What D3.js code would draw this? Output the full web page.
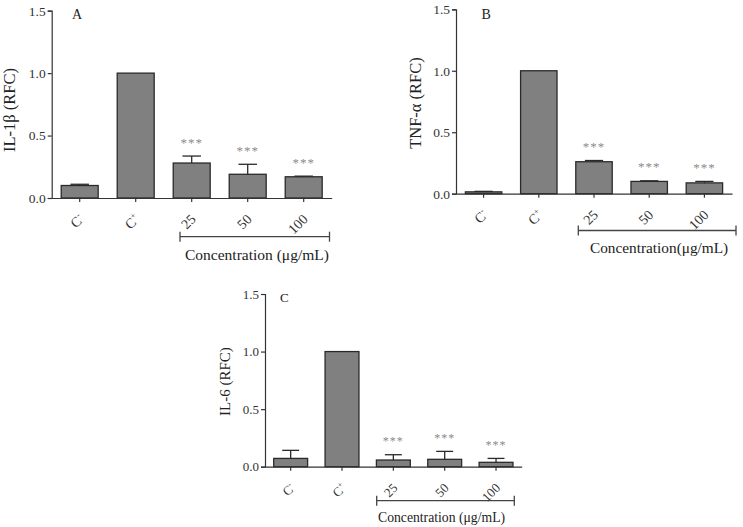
<!DOCTYPE html>
<html>
<head>
<meta charset="utf-8">
<script src="https://cdn.jsdelivr.net/npm/d3@7"></script>
<style>
  html, body { margin: 0; padding: 0; background: #fff; }
  svg { display: block; font-family: "Liberation Serif", "Times New Roman", serif; }
</style>
</head>
<body>
<svg id="chart" width="743" height="527"></svg>
<script>
// ---- data ----
const categories = ["C-", "C+", "25", "50", "100"];
const yTicks = [0, 0.5, 1.0, 1.5];
const il1bMean = [0.10, 1.00, 0.28, 0.19, 0.17];
const il1bErr  = [0.01, 0.00, 0.056, 0.08, 0.005];
const tnfMean  = [0.015, 1.00, 0.26, 0.10, 0.088];
const tnfErr   = [0.004, 0.00, 0.01, 0.005, 0.012];
const il6Mean  = [0.072, 1.00, 0.058, 0.064, 0.038];
const il6Err   = [0.07, 0.00, 0.046, 0.069, 0.034];
const signif   = ["", "", "***", "***", "***"];
const panelLetters = ["A", "B", "C"];
const yLabels = ["IL-1β (RFC)", "TNF-α (RFC)", "IL-6 (RFC)"];
const xTitles = ["Concentration (μg/mL)", "Concentration(μg/mL)", "Concentration (μg/mL)"];

const svg = d3.select("#chart");

const panels = [
  { mean: il1bMean, err: il1bErr, x0: 51.7, x1: 331.7, yTop: 10.7, yBot: 198,
    letterPos: [72, 19], ylabPos: [15, 110], ylabSize: 16.5, tickSize: 13.5, xtSize: 14,
    brX: [180, 329.5], brY: 236.7, titlePos: [185, 260], titleSize: 15.5, letterSize: 14, starSize: 13 },
  { mean: tnfMean, err: tnfErr, x0: 456, x1: 732, yTop: 9.3, yBot: 193.7,
    letterPos: [481.5, 19], ylabPos: [421, 103], ylabSize: 16.5, tickSize: 13.5, xtSize: 14,
    brX: [578.3, 736], brY: 230.5, titlePos: [590, 253], titleSize: 15.3, letterSize: 14, starSize: 13 },
  { mean: il6Mean, err: il6Err, x0: 265, x1: 521.7, yTop: 294, yBot: 466.7,
    letterPos: [280, 302], ylabPos: [229.5, 381.5], ylabSize: 15, tickSize: 13, xtSize: 13,
    brX: [376.7, 514.3], brY: 500.7, titlePos: [378, 521.5], titleSize: 13.7, letterSize: 13, starSize: 12 }
];

panels.forEach((p, pi) => {
  const g = svg.append("g");
  const x = d3.scaleBand().domain(categories).range([p.x0, p.x1]).paddingInner(0.34).paddingOuter(0.17);
  const y = d3.scaleLinear().domain([0, 1.5]).range([p.yBot, p.yTop]);
  const rows = categories.map((c, i) => ({ c, m: p.mean[i], e: p.err[i], s: signif[i] }));

  // bars
  g.selectAll("rect.bar").data(rows).join("rect")
    .attr("class", "bar")
    .attr("x", d => x(d.c))
    .attr("width", x.bandwidth())
    .attr("y", d => y(d.m))
    .attr("height", d => y(0) - y(d.m))
    .attr("fill", "#808080")
    .attr("stroke", "#2a2a2a")
    .attr("stroke-width", 1.3);

  // error bars (upper only)
  const eb = g.selectAll("g.err").data(rows.filter(d => d.e > 0)).join("g").attr("class", "err");
  eb.append("line")
    .attr("x1", d => x(d.c) + x.bandwidth() / 2).attr("x2", d => x(d.c) + x.bandwidth() / 2)
    .attr("y1", d => y(d.m)).attr("y2", d => y(d.m + d.e))
    .attr("stroke", "#2a2a2a").attr("stroke-width", 1.3);
  eb.append("line")
    .attr("x1", d => x(d.c) + x.bandwidth() * 0.25).attr("x2", d => x(d.c) + x.bandwidth() * 0.75)
    .attr("y1", d => y(d.m + d.e)).attr("y2", d => y(d.m + d.e))
    .attr("stroke", "#2a2a2a").attr("stroke-width", 1.3);

  // significance stars
  g.selectAll("text.star").data(rows.filter(d => d.s)).join("text")
    .attr("class", "star")
    .attr("x", d => x(d.c) + x.bandwidth() / 2)
    .attr("y", d => y(d.m + d.e) - 9.5)
    .attr("text-anchor", "middle")
    .attr("font-size", p.starSize)
    .attr("letter-spacing", 1)
    .attr("fill", "#8a8a8a")
    .text(d => d.s);

  // y axis
  const yAxis = d3.axisLeft(y).tickValues(yTicks).tickFormat(d3.format(".1f")).tickSize(4).tickPadding(2);
  const ya = g.append("g").attr("transform", `translate(${p.x0},0)`).call(yAxis);
  ya.select(".domain").attr("stroke", "#333").attr("stroke-width", 1.2);
  ya.selectAll(".tick line").attr("stroke", "#333").attr("stroke-width", 1.2);
  ya.selectAll(".tick text").attr("font-size", p.tickSize).attr("fill", "#333")
    .attr("font-family", "Liberation Serif, serif");

  // x axis
  const xAxis = d3.axisBottom(x).tickSize(4).tickSizeOuter(0).tickFormat("");
  const xa = g.append("g").attr("transform", `translate(0,${p.yBot})`).call(xAxis);
  xa.select(".domain").attr("stroke", "#333").attr("stroke-width", 1.2);
  xa.selectAll(".tick line").attr("stroke", "#333").attr("stroke-width", 1.2);

  // rotated category labels
  const lab = g.selectAll("text.xl").data(categories).join("text")
    .attr("class", "xl")
    .attr("font-size", p.xtSize)
    .attr("fill", "#333")
    .attr("text-anchor", "end")
    .attr("transform", d => `translate(${x(d) + x.bandwidth() / 2 + 5},${p.yBot + 22}) rotate(-45)`);
  lab.each(function (d) {
    const t = d3.select(this);
    if (d === "C-" || d === "C+") {
      t.append("tspan").text("C");
      t.append("tspan").attr("font-size", p.xtSize * 0.62).attr("dy", -p.xtSize * 0.4)
        .text(d === "C-" ? "-" : "+");
    } else {
      t.text(d);
    }
  });

  // panel letter
  g.append("text").attr("x", p.letterPos[0]).attr("y", p.letterPos[1])
    .attr("font-size", p.letterSize).attr("fill", "#222").text(panelLetters[pi]);

  // y label
  g.append("text")
    .attr("transform", `translate(${p.ylabPos[0]},${p.ylabPos[1]}) rotate(-90)`)
    .attr("text-anchor", "middle")
    .attr("font-size", p.ylabSize)
    .attr("fill", "#222")
    .text(yLabels[pi]);

  // concentration bracket
  const br = g.append("g").attr("stroke", "#444").attr("stroke-width", 1.3);
  br.append("line").attr("x1", p.brX[0]).attr("x2", p.brX[1]).attr("y1", p.brY).attr("y2", p.brY);
  br.append("line").attr("x1", p.brX[0]).attr("x2", p.brX[0]).attr("y1", p.brY - 5).attr("y2", p.brY + 5);
  br.append("line").attr("x1", p.brX[1]).attr("x2", p.brX[1]).attr("y1", p.brY - 5).attr("y2", p.brY + 5);

  g.append("text").attr("x", p.titlePos[0]).attr("y", p.titlePos[1])
    .attr("font-size", p.titleSize).attr("fill", "#222").text(xTitles[pi]);
});
</script>
</body>
</html>
